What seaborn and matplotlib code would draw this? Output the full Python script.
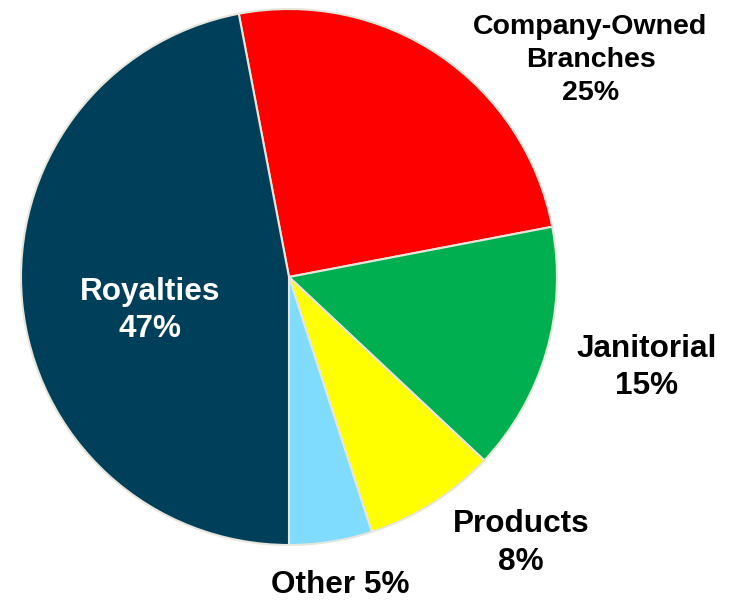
import matplotlib
matplotlib.use("Agg")
import matplotlib.pyplot as plt
import seaborn as sns

# Revenue mix by source
categories = ["Company-Owned\nBranches", "Janitorial", "Products", "Other", "Royalties"]
shares = [25, 15, 8, 5, 47]
colors = ["#FF0000", "#00B050", "#FFFF00", "#80DCFF", "#003F5A"]

sns.set_theme(style="white")
plt.rcParams["font.family"] = ["Liberation Sans", "DejaVu Sans"]

W, H = 734, 600
fig = plt.figure(figsize=(W / 100, H / 100), dpi=100)
cx, cy, r = 289, 277, 268
ax = fig.add_axes([(cx - r) / W, (H - cy - r) / H, 2 * r / W, 2 * r / H])

# Royalties (last wedge) ends where the first wedge begins; it closes at the bottom.
start = 270 - 360 * shares[-1] / 100
wedges, _ = ax.pie(
    shares,
    colors=sns.color_palette(colors),
    startangle=start,
    counterclock=False,
    radius=1.0,
    wedgeprops=dict(edgecolor="#E6E6DC", linewidth=1.5),
)
ax.set_xlim(-1, 1)
ax.set_ylim(-1, 1)
ax.set_aspect("equal")
ax.axis("off")

label_pos = [(1.125, 0.81), (1.335, -0.338), (0.865, -0.992), (0.19, -1.15), (-0.52, -0.125)]
label_size = [20.5, 22.7, 22.7, 22.7, 22.7]
for (x, y), name, val, fs in zip(label_pos, categories, shares, label_size):
    if name == "Other":
        txt = f"{name} {val}%"
    else:
        txt = f"{name}\n{val}%"
    color = "white" if name == "Royalties" else "black"
    ax.text(x, y, txt, ha="center", va="center", fontsize=fs, fontweight="bold",
            color=color, linespacing=1.33, clip_on=False)

fig.savefig("out.png", dpi=100)
